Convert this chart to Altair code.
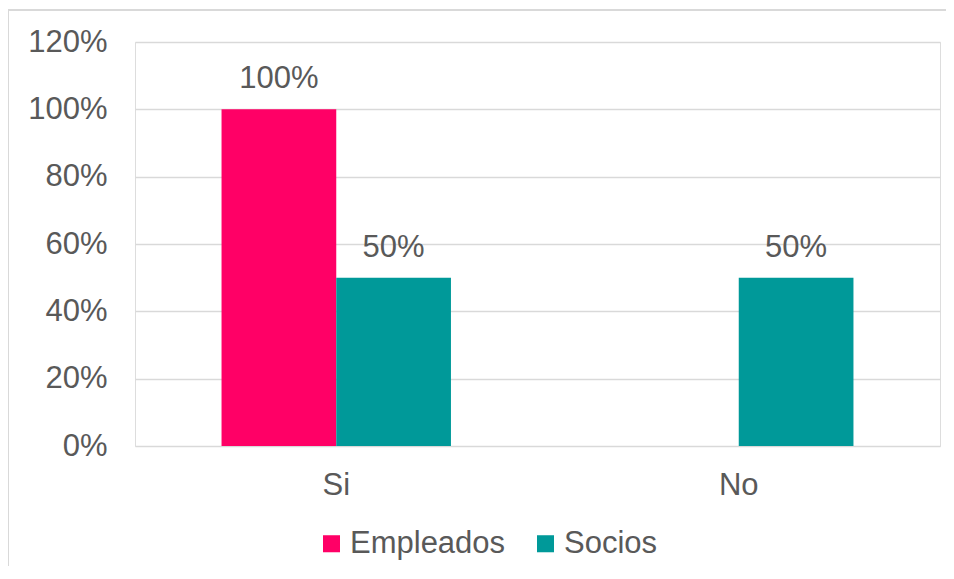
import altair as alt
import pandas as pd

categories = ["Si", "No"]
series = ["Empleados", "Socios"]
empleados = [1.0, 0.0]
socios = [0.5, 0.5]
colors = ["#FF0066", "#009999"]
y_ticks = [0, 0.2, 0.4, 0.6, 0.8, 1.0, 1.2]

rows = []
for i, c in enumerate(categories):
    rows.append({"cat": c, "serie": "Empleados", "val": empleados[i]})
    rows.append({"cat": c, "serie": "Socios", "val": socios[i]})
df = pd.DataFrame(rows)

FONT = "Liberation Sans"
TXT = "#595959"
FS = 31

x = alt.X("cat:N", sort=categories, title=None,
          scale=alt.Scale(paddingInner=0.43, paddingOuter=0.215),
          axis=alt.Axis(labelAngle=0, labelFontSize=FS, labelColor=TXT, labelFont=FONT,
                        domain=False, ticks=False, labelPadding=24, grid=False))
xo = alt.XOffset("serie:N", sort=series, scale=alt.Scale(paddingInner=0, paddingOuter=0))
y = alt.Y("val:Q", title=None,
          scale=alt.Scale(domain=[0, 1.2], nice=False),
          axis=alt.Axis(values=y_ticks, format=".0%", labelFontSize=FS, labelColor=TXT,
                        labelFont=FONT, domain=False, ticks=False, labelPadding=28,
                        gridColor="#D9D9D9", gridWidth=1.5))

color = alt.Color("serie:N", sort=series,
                  scale=alt.Scale(domain=series, range=colors),
                  legend=alt.Legend(title=None, orient="none", direction="horizontal",
                                    legendX=181, legendY=486,
                                    symbolType="square", symbolSize=290, symbolStrokeWidth=0,
                                    labelFontSize=FS, labelColor=TXT, labelFont=FONT,
                                    labelOffset=3, columnPadding=24, symbolOpacity=1))

bars = alt.Chart(df).mark_bar(opacity=1).encode(x=x, xOffset=xo, y=y, color=color)

labels = alt.Chart(df).transform_filter("datum.val > 0").mark_text(
    baseline="bottom", dy=-14, fontSize=FS, font=FONT, color=TXT
).encode(x=alt.X("cat:N", sort=categories), xOffset=alt.XOffset("serie:N", sort=series),
         y="val:Q", text=alt.Text("val:Q", format=".0%"))

one = pd.DataFrame({"a": [0]})
border_top = alt.Chart(one).mark_rule(color="#D9D9D9", strokeWidth=2, clip=False).encode(
    x=alt.value(-127), x2=alt.value(1000), y=alt.value(-32))
border_left = alt.Chart(one).mark_rule(color="#D9D9D9", strokeWidth=2, clip=False).encode(
    x=alt.value(-127), y=alt.value(-32), y2=alt.value(800))

chart = alt.layer(border_top, border_left, bars, labels).properties(
    width=805, height=404,
    autosize=alt.AutoSizeParams(type="none"),
    padding={"left": 127, "top": 34, "right": 6, "bottom": 120},
).configure_view(stroke=None).configure(background="white")

chart.save("out.html", embed_options={"renderer": "svg", "actions": False})
